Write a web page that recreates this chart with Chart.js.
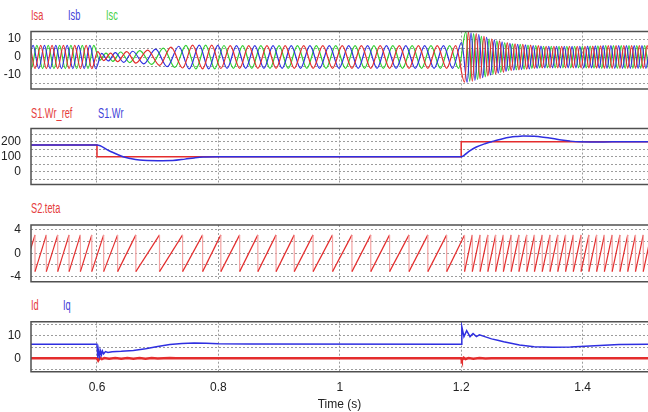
<!DOCTYPE html>
<html>
<head>
<meta charset="utf-8">
<script src="https://cdn.jsdelivr.net/npm/chart.js@4.4.1/dist/chart.umd.min.js"></script>
<style>
  body { margin: 0; background: #fff; }
  #wrap { position: relative; width: 648px; height: 412px; overflow: hidden;
          font-family: 'Liberation Sans', Arial, sans-serif; }
  canvas { position: absolute; left: 0; }
  .lbl { position: absolute; font-size: 14px; line-height: 16px; white-space: nowrap;
         transform: scaleX(0.66); transform-origin: left center; }
  .r { color: #e53d3d; } .b { color: #3f3fd8; } .g { color: #45d045; }
</style>
</head>
<body>
<div id="wrap">
  <div class="lbl r" style="left:31px;top:7px">Isa</div>
  <div class="lbl b" style="left:68px;top:7px">Isb</div>
  <div class="lbl g" style="left:106px;top:7px">Isc</div>
  <div class="lbl r" style="left:31px;top:105px">S1.Wr_ref</div>
  <div class="lbl b" style="left:98px;top:105px">S1.Wr</div>
  <div class="lbl r" style="left:31px;top:200px">S2.teta</div>
  <div class="lbl r" style="left:31px;top:297px">Id</div>
  <div class="lbl b" style="left:63px;top:297px">Iq</div>
  <canvas id="c1"></canvas>
  <canvas id="c2"></canvas>
  <canvas id="c3"></canvas>
  <canvas id="c4"></canvas>
</div>
<script>
// ===== DATA (time in s) =====
const xGrid = [0.6, 0.8, 1.0, 1.2, 1.4];

// stator currents, extrema: [time, value]
const isa = [[0.4792,-6.5],[0.4886,6.5],[0.4979,-6.5],[0.5073,6.5],[0.5166,-6.5],[0.5260,6.5],[0.5353,-6.5],[0.5447,6.5],[0.5540,-6.5],[0.5634,6.5],
  [0.5727,-6.5],[0.5821,6.5],[0.5914,-6.5],[0.6012,3],[0.6110,-2],[0.6225,2.2],[0.6340,-2.6],[0.6490,3],[0.6640,-3.4],[0.6835,3.8],
  [0.7030,-4.6],[0.7220,5.5],[0.7410,-6.1],[0.7575,6.6],[0.7740,-6.6],[0.7890,6.6],[0.8040,-6.4],[0.8195,6.3],[0.8350,-6.3],[0.8500,6.3],
  [0.8650,-6.3],[0.8800,6.3],[0.8950,-6.3],[0.9100,6.3],[0.9250,-6.3],[0.9405,6.3],[0.9560,-6.3],[0.9720,6.3],[0.9880,-6.3],[1.0040,6.3],
  [1.0200,-6.3],[1.0355,6.3],[1.0510,-6.3],[1.0665,6.3],[1.0820,-6.3],[1.0980,6.3],[1.1140,-6.3],[1.1295,6.3],[1.1450,-6.3],[1.1605,6.3],
  [1.1760,-6.3],[1.1908,6.3],[1.2055,-14],[1.2119,14],[1.2183,-13.5],[1.2247,13],[1.2311,-12],[1.2375,11.5],[1.2439,-10.5],[1.2503,10],
  [1.2567,-9.5],[1.2631,9],[1.2695,-8.5],[1.2759,8],[1.2823,-7.6],[1.2887,7.3],[1.2951,-7.1],[1.3015,7],[1.3079,-6.8],[1.3143,6.6],
  [1.3207,-6.4],[1.3271,6.3],[1.3335,-6.1],[1.3399,6],[1.3463,-6],[1.3527,6],[1.3591,-6],[1.3655,6],[1.3719,-6],[1.3783,6],
  [1.3847,-6],[1.3911,6],[1.3975,-6],[1.4039,6],[1.4103,-6.1],[1.4167,6.1],[1.4231,-6.2],[1.4295,6.2],[1.4359,-6.3],[1.4423,6.3],
  [1.4487,-6.3],[1.4551,6.3],[1.4615,-6.3],[1.4679,6.3],[1.4743,-6.3],[1.4807,6.3],[1.4871,-6.3],[1.4935,6.3],[1.4999,-6.3],[1.5063,6.3],[1.5127,-6.3]];
const isb = [[0.4854,-6.5],[0.4948,6.5],[0.5041,-6.5],[0.5135,6.5],[0.5228,-6.5],[0.5322,6.5],[0.5415,-6.5],[0.5509,6.5],[0.5602,-6.5],[0.5696,6.5],
  [0.5789,-6.5],[0.5883,6.5],[0.5979,-6.5],[0.6077,2],[0.6187,-2.2],[0.6302,2.4],[0.6440,-3],[0.6590,3.2],[0.6770,-3.8],[0.6965,4.4],
  [0.7157,-5.4],[0.7347,6],[0.7520,-6.6],[0.7685,6.6],[0.7840,-6.6],[0.7990,6.5],[0.8143,-6.3],[0.8298,6.3],[0.8450,-6.3],[0.8600,6.3],
  [0.8750,-6.3],[0.8900,6.3],[0.9050,-6.3],[0.9200,6.3],[0.9353,-6.3],[0.9508,6.3],[0.9667,-6.3],[0.9827,6.3],[0.9987,-6.3],[1.0147,6.3],
  [1.0303,-6.3],[1.0458,6.3],[1.0613,-6.3],[1.0768,6.3],[1.0927,-6.3],[1.1087,6.3],[1.1243,-6.3],[1.1398,6.3],[1.1553,-6.3],[1.1708,6.3],
  [1.1858,-6.3],[1.2006,8],[1.2098,-14],[1.2162,13.5],[1.2226,-13],[1.2290,12.5],[1.2354,-11.5],[1.2418,11],[1.2482,-10],[1.2546,9.5],
  [1.2610,-9],[1.2674,8.5],[1.2738,-8],[1.2802,7.6],[1.2866,-7.3],[1.2930,7.1],[1.2994,-7],[1.3058,6.8],[1.3122,-6.6],[1.3186,6.4],
  [1.3250,-6.3],[1.3314,6.1],[1.3378,-6],[1.3442,6],[1.3506,-6],[1.3570,6],[1.3634,-6],[1.3698,6],[1.3762,-6],[1.3826,6],
  [1.3890,-6],[1.3954,6],[1.4018,-6],[1.4082,6.1],[1.4146,-6.1],[1.4210,6.2],[1.4274,-6.2],[1.4338,6.3],[1.4402,-6.3],[1.4466,6.3],
  [1.4530,-6.3],[1.4594,6.3],[1.4658,-6.3],[1.4722,6.3],[1.4786,-6.3],[1.4850,6.3],[1.4914,-6.3],[1.4978,6.3],[1.5042,-6.3],[1.5106,6.3]];
const isc = [[0.4823,6.5],[0.4917,-6.5],[0.5010,6.5],[0.5104,-6.5],[0.5197,6.5],[0.5291,-6.5],[0.5384,6.5],[0.5478,-6.5],[0.5571,6.5],[0.5665,-6.5],
  [0.5758,6.5],[0.5852,-6.5],[0.5947,6.5],[0.6045,-1.8],[0.6148,2.2],[0.6263,-2.4],[0.6390,2.8],[0.6540,-3.1],[0.6705,3.6],[0.6900,-4.1],
  [0.7093,5],[0.7283,-5.8],[0.7465,6.5],[0.7630,-6.6],[0.7790,6.6],[0.7940,-6.6],[0.8092,6.4],[0.8247,-6.3],[0.8400,6.3],[0.8550,-6.3],
  [0.8700,6.3],[0.8850,-6.3],[0.9000,6.3],[0.9150,-6.3],[0.9302,6.3],[0.9457,-6.3],[0.9613,6.3],[0.9773,-6.3],[0.9933,6.3],[1.0093,-6.3],
  [1.0252,6.3],[1.0407,-6.3],[1.0562,6.3],[1.0717,-6.3],[1.0873,6.3],[1.1033,-6.3],[1.1192,6.3],[1.1347,-6.3],[1.1502,6.3],[1.1657,-6.3],
  [1.1809,6.3],[1.1957,-6.3],[1.2076,14],[1.2140,-13.5],[1.2204,13],[1.2268,-12.5],[1.2332,11.5],[1.2396,-11],[1.2460,10],[1.2524,-9.5],
  [1.2588,9],[1.2652,-8.5],[1.2716,8],[1.2780,-7.6],[1.2844,7.3],[1.2908,-7.1],[1.2972,7],[1.3036,-6.8],[1.3100,6.6],[1.3164,-6.4],
  [1.3228,6.3],[1.3292,-6.1],[1.3356,6],[1.3420,-6],[1.3484,6],[1.3548,-6],[1.3612,6],[1.3676,-6],[1.3740,6],[1.3804,-6],
  [1.3868,6],[1.3932,-6],[1.3996,6],[1.4060,-6.1],[1.4124,6.1],[1.4188,-6.2],[1.4252,6.2],[1.4316,-6.3],[1.4380,6.3],[1.4444,-6.3],
  [1.4508,6.3],[1.4572,-6.3],[1.4636,6.3],[1.4700,-6.3],[1.4764,6.3],[1.4828,-6.3],[1.4892,6.3],[1.4956,-6.3],[1.5020,6.3],[1.5084,-6.3]];

// rotor speed and its reference
const wrRef = [[0.49,178],[0.6,178],[0.6,100],[1.2,100],[1.2,200],[1.51,200]];
const wr = [[0.49,178],[0.6,178],[0.62,140],[0.643,100],[0.655,88],[0.67,78],[0.7,74],[0.725,75],[0.745,84],[0.76,92],
  [0.775,98],[0.8,100],[1.2,100],[1.205,110],[1.214,139],[1.225,165],[1.24,188],[1.25,200],[1.26,212],[1.27,222],
  [1.28,229],[1.29,234],[1.302,238],[1.32,236],[1.335,230],[1.351,221],[1.365,211],[1.379,204],[1.395,199],[1.42,198],
  [1.45,199],[1.51,199]];

// angle: times where S2.teta wraps from +peak to -peak
const tetaStart = 0.4792;
const tetaPeak = 3.14;
const tetaWrap = [0.4979,0.5166,0.5353,0.5540,0.5727,0.5914,0.6110,0.6340,0.6640,0.7030,0.7410,0.7740,0.8040,0.8350,0.8650,
  0.8950,0.9250,0.9560,0.9880,1.0200,1.0510,1.0820,1.1140,1.1450,1.1760,1.2055,1.2183,1.2311,1.2439,1.2567,1.2695,1.2823,
  1.2951,1.3079,1.3207,1.3335,1.3463,1.3591,1.3719,1.3847,1.3975,1.4103,1.4231,1.4359,1.4487,1.4615,1.4743,1.4871,1.4999,1.5127];

// d/q currents
const iq = [[0.49,6.2],[0.6,6.2],[0.6015,0.2],[0.603,3.8],[0.6045,1],[0.606,3.2],[0.6075,1.6],[0.609,3.2],[0.611,2],[0.614,3],
  [0.618,2.6],[0.625,2.9],[0.64,3.1],[0.66,3.5],[0.68,4.2],[0.7,5.2],[0.72,6.1],[0.74,6.6],[0.76,6.8],[0.78,6.7],
  [0.8,6.5],[0.85,6.3],[1.2,6.2],[1.201,14],[1.2045,9.6],[1.209,12.2],[1.2145,9.6],[1.2195,11],[1.225,9.6],[1.23,10.4],
  [1.24,9.5],[1.25,8.6],[1.26,8],[1.27,7.3],[1.296,5.9],[1.32,5.1],[1.35,4.9],[1.38,5],[1.42,5.6],[1.46,6.1],[1.51,6.2]];
const id = [[0.49,0],[0.6,0],[0.602,-1],[0.605,0.3],[0.608,-0.3],[0.612,0.15],[0.62,-0.12],[0.63,0.12],[0.64,-0.12],[0.65,0.12],
  [0.66,-0.12],[0.67,0.12],[0.68,-0.12],[0.69,0.12],[0.7,-0.1],[0.72,0.1],[0.73,0],[1.2,0],[1.201,-0.8],[1.204,0.3],
  [1.207,-0.3],[1.212,0.15],[1.22,-0.12],[1.23,0.12],[1.24,-0.1],[1.25,0],[1.51,0]];

// ===== STYLE =====
const RED = '#e42d2d', BLUE = '#2f2fe0', GREEN = '#2fcf2f', PINK = '#f3a3a3';
const X_MIN = 0.4913, X_MAX = 1.5077;
const tickFont = { family: "'Liberation Sans', Arial, sans-serif", size: 12 };

const pts = arr => arr.map(([x, y]) => ({ x, y }));

const tetaPts = [{ x: tetaStart, y: -tetaPeak }];
tetaWrap.forEach(t => { tetaPts.push({ x: t, y: tetaPeak }, { x: t, y: -tetaPeak }); });

// box round the plot area (no right side, the picture is cut there)
const framePlugin = {
  id: 'frame',
  afterDraw(chart) {
    const { ctx, chartArea: a } = chart;
    ctx.save();
    ctx.strokeStyle = '#505050';
    ctx.lineWidth = 1.5;
    ctx.beginPath();
    ctx.moveTo(a.right + 2, a.top);
    ctx.lineTo(a.left, a.top);
    ctx.lineTo(a.left, a.bottom);
    ctx.lineTo(a.right + 2, a.bottom);
    ctx.stroke();
    ctx.restore();
  }
};

// scales must not push the plot area in for their edge labels
function noPad(s) {
  s.paddingTop = 0; s.paddingBottom = 0; s.paddingLeft = 0; s.paddingRight = 0;
}

function makePanel(id, top, bottom, yMin, yMax, yGrid, yLabels, datasets, isLast) {
  const cv = document.getElementById(id);
  const cTop = Math.floor(top) - 4;
  const cBottom = isLast ? 412 : Math.ceil(bottom) + 4;
  cv.width = 648;
  cv.height = cBottom - cTop;
  cv.style.top = cTop + 'px';

  new Chart(cv, {
    type: 'line',
    data: { datasets },
    options: {
      responsive: false,
      animation: false,
      events: [],
      layout: { padding: { top: top - cTop, bottom: isLast ? 0 : cBottom - bottom, left: 0, right: 0 } },
      plugins: { legend: { display: false }, tooltip: { enabled: false } },
      elements: { point: { radius: 0 } },
      scales: {
        x: {
          type: 'linear', min: X_MIN, max: X_MAX,
          afterFit: s => { s.height = isLast ? 412 - bottom : 0; noPad(s); },
          afterBuildTicks: s => { s.ticks = xGrid.map(v => ({ value: v })); },
          ticks: { display: isLast, padding: 9, color: '#222', font: tickFont, autoSkip: false, maxRotation: 0,
                   callback: v => String(v) },
          grid: { color: '#9c9c9c', drawTicks: false, lineWidth: 1 },
          border: { display: false, dash: [2, 2] },
          title: { display: isLast, text: 'Time (s)', color: '#222', font: tickFont, padding: 0 }
        },
        y: {
          type: 'linear', min: yMin, max: yMax,
          afterFit: s => { s.width = 31; noPad(s); },
          afterBuildTicks: s => { s.ticks = yGrid.map(v => ({ value: v })); },
          ticks: { padding: 10, color: '#222', font: tickFont, autoSkip: false,
                   callback: v => yLabels.includes(v) ? String(v) : '' },
          grid: { color: '#9c9c9c', drawTicks: false, lineWidth: 1 },
          border: { display: false, dash: [2, 2] }
        }
      }
    },
    plugins: [framePlugin]
  });
}

// ===== PANELS =====
makePanel('c1', 31.5, 89, -17.8, 14.2, [-15, -10, -5, 0, 5, 10], [-10, 0, 10], [
  { label: 'Isa', data: pts(isa), borderColor: RED, borderWidth: 1.2, cubicInterpolationMode: 'monotone' },
  { label: 'Isb', data: pts(isb), borderColor: BLUE, borderWidth: 1.2, cubicInterpolationMode: 'monotone' },
  { label: 'Isc', data: pts(isc), borderColor: GREEN, borderWidth: 1.2, cubicInterpolationMode: 'monotone' }
], false);

makePanel('c2', 128.5, 184.5, -85, 288, [-50, 0, 50, 100, 150, 200, 250], [0, 100, 200], [
  { label: 'S1.Wr', data: pts(wr), borderColor: BLUE, borderWidth: 1.5, cubicInterpolationMode: 'monotone' },
  { label: 'S1.Wr_ref', data: pts(wrRef), borderColor: RED, borderWidth: 1.5 }
], false);

makePanel('c3', 225, 281.7, -4.86, 4.83, [-4, -2, 0, 2, 4], [-4, 0, 4], [
  { label: 'S2.teta', data: tetaPts, borderColor: RED, borderWidth: 1.2,
    // the wrap-around drops show up faint in the original
    segment: { borderColor: c => c.p0.parsed.x === c.p1.parsed.x ? PINK : undefined } }
], false);

makePanel('c4', 321.7, 371.7, -5.9, 16.2, [-5, 0, 5, 10, 15], [0, 10], [
  { label: 'Iq', data: pts(iq), borderColor: BLUE, borderWidth: 1.5 },
  { label: 'Id', data: pts(id), borderColor: RED, borderWidth: 2.5 }
], true);
</script>
</body>
</html>
